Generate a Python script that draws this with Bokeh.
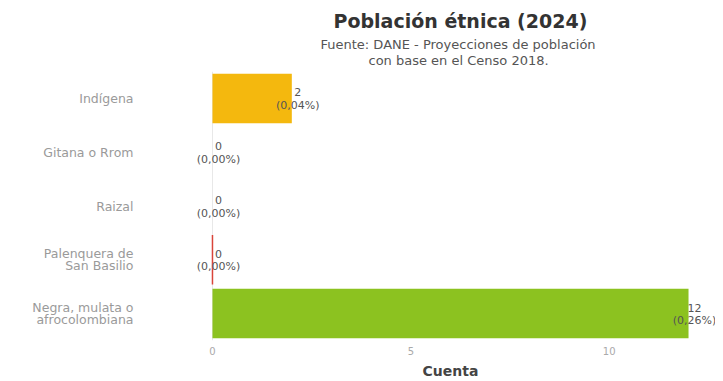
from bokeh.plotting import figure
from bokeh.models import ColumnDataSource, FactorRange, Title, Range1d, FixedTicker, Span, LabelSet
from bokeh.core.properties import value
from bokeh.embed import file_html
from bokeh.resources import INLINE

title_text = "Población étnica (2024)"
subtitle_lines = ["Fuente: DANE - Proyecciones de población", "con base en el Censo 2018."]
categories = ["Indígena", "Gitana o Rrom", "Raizal", "Palenquera de\nSan Basilio", "Negra, mulata o\nafrocolombiana"]
counts = [2, 0, 0, 0, 12]
pct_labels = ["(0,04%)", "(0,00%)", "(0,00%)", "(0,00%)", "(0,26%)"]
bar_colors = ["#F4B80E", "#BBBBBB", "#BBBBBB", "#D9443A", "#8CC220"]
x_ticks = [0, 5, 10]

FONT = "DejaVu Sans"

src = ColumnDataSource(dict(
    cat=categories,
    cnt=counts,
    cnt_txt=[str(c) for c in counts],
    pct=pct_labels,
    color=bar_colors,
    line=[None, None, None, bar_colors[3], None],
))

p = figure(
    width=715, height=381,
    y_range=FactorRange(factors=list(reversed(categories)), range_padding=0),
    x_range=Range1d(-0.68, 12.68),
    output_backend="svg", toolbar_location=None, title=None,
    min_border_left=185, min_border_right=0, min_border_bottom=0, min_border_top=71,
)

p.add_layout(Span(location=0, dimension="height", line_color="#E8E8E8",
                  line_width=1, level="underlay"))

p.hbar(y="cat", left=0, right="cnt", height=0.92, source=src,
       fill_color="color", line_color="line", line_width=1.5)

p.add_layout(LabelSet(x="cnt", y="cat", text="cnt_txt", source=src, x_offset=6, y_offset=6,
                      text_align="center", text_baseline="middle", text_font_size="11px",
                      text_color="#555555", text_font=value(FONT)))
p.add_layout(LabelSet(x="cnt", y="cat", text="pct", source=src, x_offset=6, y_offset=-7,
                      text_align="center", text_baseline="middle", text_font_size="11px",
                      text_color="#555555", text_font=value(FONT)))

p.xgrid.grid_line_color = None
p.ygrid.grid_line_color = None
p.outline_line_color = None

p.yaxis.axis_line_color = None
p.yaxis.major_tick_line_color = None
p.yaxis.minor_tick_line_color = None
p.yaxis.major_label_standoff = 46
p.yaxis.major_label_text_color = "#9A9A9A"
p.yaxis.major_label_text_font = FONT
p.yaxis.major_label_text_font_size = "12.5px"
p.yaxis.major_label_text_line_height = 0.82

p.xaxis.ticker = FixedTicker(ticks=x_ticks)
p.xaxis.axis_line_color = None
p.xaxis.major_tick_line_color = None
p.xaxis.minor_tick_line_color = None
p.xaxis.major_label_text_color = "#AAAAAA"
p.xaxis.major_label_text_font = FONT
p.xaxis.major_label_text_font_size = "10px"
p.xaxis.major_label_standoff = 0
p.xaxis.axis_label = "Cuenta"
p.xaxis.axis_label_text_font = FONT
p.xaxis.axis_label_text_font_size = "14px"
p.xaxis.axis_label_text_font_style = "bold"
p.xaxis.axis_label_text_color = "#444444"
p.xaxis.axis_label_standoff = 5

sub2 = Title(text=subtitle_lines[1], align="left", offset=183,
             text_font=FONT, text_font_size="13px", text_font_style="normal",
             text_color="#555555", standoff=8)
p.add_layout(sub2, "above")
sub1 = Title(text=subtitle_lines[0], align="left", offset=135,
             text_font=FONT, text_font_size="13px", text_font_style="normal",
             text_color="#555555", standoff=-10)
p.add_layout(sub1, "above")
main = Title(text=title_text, align="left", offset=148,
             text_font=FONT, text_font_size="19px", text_font_style="bold",
             text_color="#333333", standoff=15)
p.add_layout(main, "above")

open("out.html", "w").write(file_html(p, INLINE))
